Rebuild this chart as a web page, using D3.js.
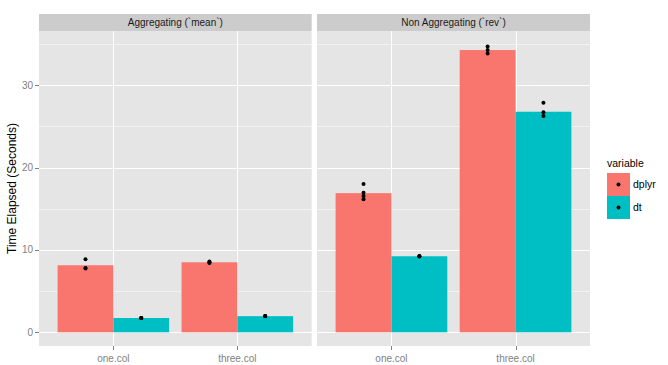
<!DOCTYPE html>
<html lang="en">
<head>
    <meta charset="UTF-8"/>
    <title>Time elapsed</title>
    <script src="https://d3js.org/d3.v7.min.js"></script>
    <style>
        body { margin: 0; background: #fff; }
        text { font-family: "Liberation Sans", Arial, sans-serif; }
        .grid line { shape-rendering: crispEdges; }
    </style>
</head>
<body>
<div id="chart"></div>
<script>
    // data
    const panels = ["Aggregating (`mean`)", "Non Aggregating (`rev`)"];
    const cols = ["one.col", "three.col"];
    const variables = ["dplyr", "dt"];
    const colours = ["#F8766D", "#00BFC4"];
    const yTicks = [0, 10, 20, 30];
    const yMinor = [5, 15, 25, 35];

    // bar heights: [one.col, three.col]
    const meanDplyr = [8.14, 8.5];
    const meanDt = [1.74, 1.96];
    const revDplyr = [16.89, 34.26];
    const revDt = [9.23, 26.77];

    // individual runs: [one.col runs, three.col runs]
    const meanDplyrRuns = [[8.87, 7.8, 7.75], [8.6, 8.4, 8.5]];
    const meanDtRuns = [[1.74, 1.75, 1.73], [1.98, 1.97, 1.96]];
    const revDplyrRuns = [[18.0, 16.95, 16.55, 16.15], [34.7, 34.25, 33.85]];
    const revDtRuns = [[9.2, 9.25, 9.22], [27.86, 26.7, 26.25]];

    const bars = [[meanDplyr, meanDt], [revDplyr, revDt]];
    const runs = [[meanDplyrRuns, meanDtRuns], [revDplyrRuns, revDtRuns]];

    const W = 668, H = 365;
    const panelTop = 31, panelBottom = 346, stripTop = 14;
    const panelX = [[39, 311.7], [317, 590]];

    const svg = d3.select("#chart").append("svg")
        .attr("width", W).attr("height", H);

    const y = d3.scaleLinear()
        .domain([-1.66, 36.57])
        .range([panelBottom, panelTop]);

    panels.forEach(function(name, p) {
        const x = d3.scalePoint()
            .domain(cols)
            .range(panelX[p])
            .padding(0.6);
        const bw = x.step() * 0.45;
        const g = svg.append("g");
        const x0 = panelX[p][0], x1 = panelX[p][1];

        // panel background
        g.append("rect").attr("x", x0).attr("y", panelTop)
            .attr("width", x1 - x0).attr("height", panelBottom - panelTop)
            .attr("fill", "#e5e5e5");

        // strip
        g.append("rect").attr("x", x0).attr("y", stripTop)
            .attr("width", x1 - x0).attr("height", panelTop - stripTop)
            .attr("fill", "#cccccc");
        g.append("text").attr("x", (x0 + x1) / 2).attr("y", 26)
            .attr("text-anchor", "middle").style("font-size", "10px")
            .attr("fill", "#1a1a1a").text(name);

        // grid
        const grid = g.append("g").attr("class", "grid");
        grid.selectAll(".minor").data(yMinor).enter().append("line")
            .attr("x1", x0).attr("x2", x1)
            .attr("y1", d => Math.round(y(d)) + 0.5).attr("y2", d => Math.round(y(d)) + 0.5)
            .attr("stroke", "#f2f2f2").attr("stroke-width", 1);
        grid.selectAll(".major").data(yTicks).enter().append("line")
            .attr("x1", x0).attr("x2", x1)
            .attr("y1", d => Math.round(y(d)) + 0.5).attr("y2", d => Math.round(y(d)) + 0.5)
            .attr("stroke", "#ffffff").attr("stroke-width", 1);
        grid.selectAll(".vmajor").data(cols).enter().append("line")
            .attr("x1", d => Math.round(x(d)) + 0.5).attr("x2", d => Math.round(x(d)) + 0.5)
            .attr("y1", panelTop).attr("y2", panelBottom)
            .attr("stroke", "#ffffff").attr("stroke-width", 1);

        // bars, dodged
        variables.forEach(function(v, k) {
            g.selectAll(".bar" + k).data(bars[p][k]).enter().append("rect")
                .attr("x", (d, i) => x(cols[i]) - bw + k * bw)
                .attr("y", d => y(d))
                .attr("width", bw)
                .attr("height", d => y(0) - y(d))
                .attr("fill", colours[k]);
        });

        // points
        variables.forEach(function(v, k) {
            runs[p][k].forEach(function(vals, i) {
                g.selectAll(null).data(vals).enter().append("circle")
                    .attr("cx", x(cols[i]) - bw / 2 + k * bw)
                    .attr("cy", d => y(d))
                    .attr("r", 2)
                    .attr("fill", "#000");
            });
        });

        // x axis
        g.selectAll(".xt").data(cols).enter().append("line")
            .attr("x1", d => Math.round(x(d)) + 0.5).attr("x2", d => Math.round(x(d)) + 0.5)
            .attr("y1", panelBottom).attr("y2", panelBottom + 4)
            .attr("stroke", "#7f7f7f").style("shape-rendering", "crispEdges");
        g.selectAll(".xl").data(cols).enter().append("text")
            .attr("x", d => x(d)).attr("y", 362)
            .attr("text-anchor", "middle").style("font-size", "10px")
            .attr("fill", "#7f7f7f").text(d => d);
    });

    // y axis
    const ya = svg.append("g");
    ya.selectAll("line").data(yTicks).enter().append("line")
        .attr("x1", 35).attr("x2", 39)
        .attr("y1", d => Math.round(y(d)) + 0.5).attr("y2", d => Math.round(y(d)) + 0.5)
        .attr("stroke", "#7f7f7f").style("shape-rendering", "crispEdges");
    ya.selectAll("text").data(yTicks).enter().append("text")
        .attr("x", 33).attr("y", d => y(d) + 3.5)
        .attr("text-anchor", "end").style("font-size", "10px")
        .attr("fill", "#7f7f7f").text(d => d);

    svg.append("text")
        .attr("transform", "translate(16," + ((panelTop + panelBottom) / 2) + ") rotate(-90)")
        .attr("text-anchor", "middle").style("font-size", "12px")
        .attr("fill", "#000").text("Time Elapsed (Seconds)");

    // legend
    const lg = svg.append("g");
    lg.append("text").attr("x", 607).attr("y", 167)
        .style("font-size", "10.5px").attr("fill", "#000").text("variable");
    variables.forEach(function(v, k) {
        const ky = 173 + k * 23;
        lg.append("rect").attr("x", 607).attr("y", ky)
            .attr("width", 23).attr("height", 23).attr("fill", colours[k]);
        lg.append("circle").attr("cx", 618.5).attr("cy", ky + 11.5)
            .attr("r", 2).attr("fill", "#000");
        lg.append("text").attr("x", 633).attr("y", ky + 15)
            .style("font-size", "10.5px").attr("fill", "#000").text(v);
    });
</script>
</body>
</html>
